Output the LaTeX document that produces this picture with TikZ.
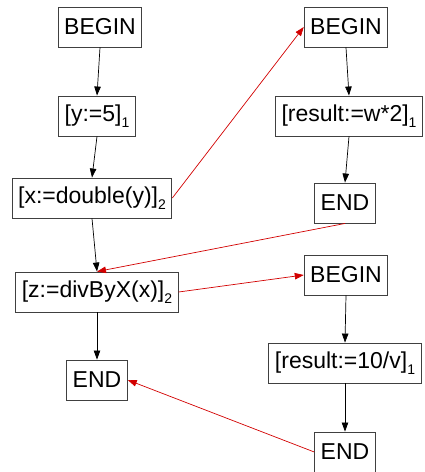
\documentclass[tikz,border=0pt]{standalone}
\usepackage{fontspec}
\setmainfont{Liberation Sans}
\usetikzlibrary{arrows.meta}
\definecolor{flowred}{RGB}{210,0,0}
\newcommand\subidx[1]{\raisebox{-0.45ex}{\fontsize{14}{14}\selectfont #1}}
\tikzset{
  stmt/.style={draw=black!75, line width=0.9pt, minimum height=40pt, inner xsep=6pt, inner ysep=0pt,
    font=\fontsize{23}{26}\selectfont, fill=white},
  seqarrow/.style={draw=black, line width=0.7pt, -{Triangle[length=9pt,width=6.5pt]}},
  callarrow/.style={draw=flowred, line width=0.7pt, -{Triangle[length=9pt,width=6.5pt]}}
}
\begin{document}
\begin{tikzpicture}[x=1pt,y=-1pt]
\useasboundingbox (0,0) rectangle (425,472);
\node[stmt] (b1) at (100,27) {BEGIN};
\node[stmt] (y) at (97,116) {[y:=5]\subidx{1}};
\node[stmt] (xd) at (92,198) {[x:=double(y)]\subidx{2}};
\node[stmt] (z) at (97,292) {[z:=divByX(x)]\subidx{2}};
\node[stmt] (el) at (97,380) {END};
\node[stmt] (b2) at (346,27) {BEGIN};
\node[stmt] (r1) at (349,116) {[result:=w*2]\subidx{1}};
\node[stmt] (e2) at (345,203) {END};
\node[stmt] (b3) at (346,275) {BEGIN};
\node[stmt] (r2) at (345,363) {[result:=10/v]\subidx{1}};
\node[stmt] (e3) at (345,452) {END};
\draw[seqarrow] (b1.south) -- (y.north);
\draw[seqarrow] (y.south) -- (xd.north);
\draw[seqarrow] (xd.south) -- (z.north);
\draw[seqarrow] (z.south) -- (el.north);
\draw[seqarrow] (b2.south) -- (r1.north);
\draw[seqarrow] (r1.south) -- (e2.north);
\draw[seqarrow] (b3.south) -- (r2.north);
\draw[seqarrow] (r2.south) -- (e3.north);
\draw[callarrow] (xd.east) -- (b2.west);
\draw[callarrow] (e2.south) -- (z.north);
\draw[callarrow] (z.east) -- (b3.west);
\draw[callarrow] (e3.west) -- (el.east);
\end{tikzpicture}
\end{document}
